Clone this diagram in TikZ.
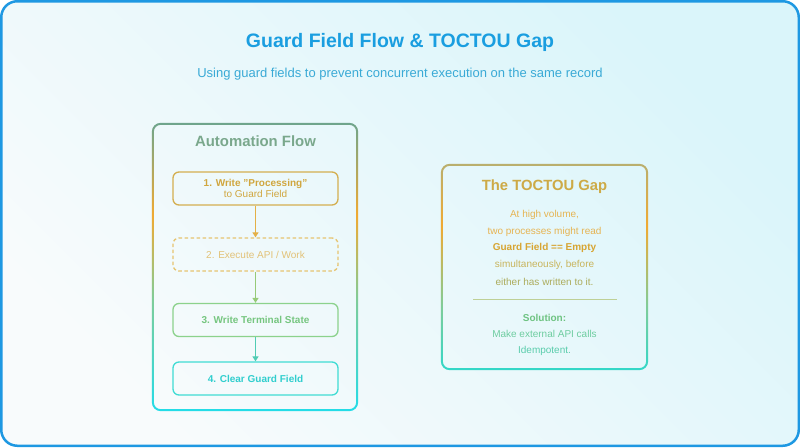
\documentclass[tikz,border=0pt]{standalone}
\usepackage{fontspec}
\setmainfont{Liberation Sans}
\usetikzlibrary{arrows.meta}
\definecolor{titleblue}{RGB}{26,158,224}
\definecolor{subblue}{RGB}{58,170,214}
\definecolor{frameblue}{RGB}{30,152,226}
\definecolor{bgwhite}{RGB}{248,251,252}
\definecolor{bgcyan}{RGB}{218,245,250}
\definecolor{ringsage}{RGB}{110,165,140}
\definecolor{ringorange}{RGB}{240,170,50}
\definecolor{ringgreen}{RGB}{125,205,155}
\definecolor{ringcyan}{RGB}{35,220,232}
\definecolor{gapolive}{RGB}{185,175,110}
\definecolor{gapcyan}{RGB}{50,215,200}
\definecolor{flowsage}{RGB}{122,168,140}
\definecolor{stepgold}{RGB}{212,175,80}
\definecolor{textgold}{RGB}{208,166,62}
\definecolor{arrowgold}{RGB}{228,176,70}
\definecolor{stepsand}{RGB}{230,196,112}
\definecolor{textsand}{RGB}{226,194,120}
\definecolor{arrowgreen}{RGB}{150,202,120}
\definecolor{stepgreen}{RGB}{140,210,140}
\definecolor{textgreen}{RGB}{118,198,128}
\definecolor{arrowteal}{RGB}{80,204,180}
\definecolor{stepcyan}{RGB}{64,220,212}
\definecolor{textcyan}{RGB}{48,206,206}
\definecolor{gapgold}{RGB}{205,170,70}
\definecolor{gaporange}{RGB}{230,180,82}
\definecolor{gapamber}{RGB}{215,165,50}
\definecolor{gapkhaki}{RGB}{200,180,92}
\definecolor{gapmoss}{RGB}{172,172,92}
\definecolor{sepgreen}{RGB}{190,208,150}
\definecolor{solgreen}{RGB}{110,195,130}
\definecolor{solmint}{RGB}{110,205,160}
\definecolor{solteal}{RGB}{90,205,172}
\pgfdeclareverticalshading{flowring}{100bp}{color(0bp)=(ringcyan); color(25bp)=(ringcyan); color(44bp)=(ringgreen); color(59bp)=(ringorange); color(75bp)=(ringsage); color(100bp)=(ringsage)}
\pgfdeclareverticalshading{gapring}{100bp}{color(0bp)=(gapcyan); color(25bp)=(gapcyan); color(40bp)=(ringgreen); color(60bp)=(ringorange); color(75bp)=(gapolive); color(100bp)=(gapolive)}

\begin{document}
\begin{tikzpicture}[x=1pt, y=-1pt,
    panel/.style={minimum width=#1, inner sep=0pt},
    stepbox/.style={draw, rounded corners=6pt, line width=1.3pt, minimum width=165pt,
        minimum height=33pt, align=center, font=\fontsize{10}{11}\selectfont},
    flowarrow/.style={line width=1.2pt, -{Triangle[length=5pt,width=6pt]}},
    gaptext/.style={font=\fontsize{10}{12}\selectfont}]
    \useasboundingbox (0,0) rectangle (800,447);

    % Fondo
    \shade[draw=frameblue, line width=2.5pt, rounded corners=16pt, top color=bgcyan,
        bottom color=bgwhite, shading angle=-45] (1.25,1.25) rectangle (798.75,445.75);

    % Titulo
    \node[font=\bfseries\fontsize{19.5}{22}\selectfont, text=titleblue] (title) at (400,42)
        {Guard Field Flow \& TOCTOU Gap};
    \node[font=\fontsize{13}{15}\selectfont, text=subblue] (subtitle) at (400,74)
        {Using guard fields to prevent concurrent execution on the same record};

    % Panel izquierdo
    \node[panel=206pt, minimum height=288pt] (flowpanel) at (255,267) {};
    \shade[shading=flowring, even odd rule, rounded corners=9pt]
        (flowpanel.north west) rectangle (flowpanel.south east)
        [rounded corners=7pt] ([shift={(2,2)}]flowpanel.north west)
        rectangle ([shift={(-2,-2)}]flowpanel.south east);
    \node[font=\bfseries\fontsize{14.9}{17}\selectfont, text=flowsage] (flowtitle) at (255.5,141)
        {Automation Flow};

    % Pasos
    \node[stepbox, draw=stepgold, text=textgold] (step1) at (255.5,188.5)
        {\textbf{1. Write "Processing"}\\to Guard Field};
    \node[stepbox, draw=stepsand, text=textsand, dash pattern=on 3.5pt off 2.5pt] (step2)
        at (255.5,254.5) {2. Execute API / Work};
    \node[stepbox, draw=stepgreen, text=textgreen, font=\bfseries\fontsize{10}{11}\selectfont]
        (step3) at (255.5,320) {3. Write Terminal State};
    \node[stepbox, draw=stepcyan, text=textcyan, font=\bfseries\fontsize{10}{11}\selectfont]
        (step4) at (255.5,378.5) {4. Clear Guard Field};

    % Flechas
    \draw[flowarrow, arrowgold] (step1) -- (step2);
    \draw[flowarrow, arrowgreen] (step2) -- (step3);
    \draw[flowarrow, arrowteal] (step3) -- (step4);

    % Panel derecho
    \node[panel=207pt, minimum height=206pt] (gappanel) at (544.5,267) {};
    \shade[shading=gapring, even odd rule, rounded corners=9pt]
        (gappanel.north west) rectangle (gappanel.south east)
        [rounded corners=7pt] ([shift={(2,2)}]gappanel.north west)
        rectangle ([shift={(-2,-2)}]gappanel.south east);
    \node[font=\bfseries\fontsize{14.8}{17}\selectfont, text=gapgold] (gaptitle) at (544.5,187)
        {The TOCTOU Gap};

    \foreach \y/\txt/\col [count=\n] in {215/{At high volume,}/gaporange,
            231.5/{two processes might read}/gaporange,
            248/{\textbf{Guard Field == Empty}}/gapamber,
            264.5/{simultaneously, before}/gapkhaki,
            281.5/{either has written to it.}/gapmoss,
            317.5/{\textbf{Solution:}}/solgreen,
            333.5/{Make external API calls}/solmint,
            350.5/{Idempotent.}/solteal} {
        \node[gaptext, text=\col] (gapline\n) at (544.5,\y) {\txt};
    }

    % Separador
    \coordinate (sepleft) at (473,299);
    \coordinate (sepright) at (617,299);
    \draw[sepgreen, line width=1pt] (sepleft) -- (sepright);
\end{tikzpicture}
\end{document}
